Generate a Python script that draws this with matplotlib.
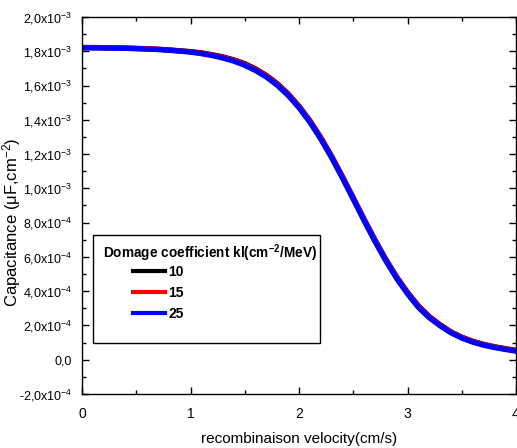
import matplotlib
matplotlib.use("Agg")
import matplotlib.pyplot as plt
from matplotlib.patches import Rectangle
from matplotlib.ticker import MultipleLocator

plt.rcParams['font.family'] = ['Liberation Sans', 'DejaVu Sans']
plt.rcParams['mathtext.fontset'] = 'custom'
plt.rcParams['mathtext.rm'] = 'Liberation Sans'
plt.rcParams['mathtext.it'] = 'Liberation Sans:italic'
plt.rcParams['mathtext.bf'] = 'Liberation Sans:bold'
plt.rcParams['mathtext.default'] = 'regular'

# ---- data ----
velocity = [0.0, 0.1, 0.2, 0.3, 0.4, 0.5, 0.6, 0.7, 0.8, 0.9, 1.0,
            1.1, 1.2, 1.3, 1.4, 1.5, 1.6, 1.7, 1.8, 1.9, 2.0,
            2.1, 2.2, 2.3, 2.4, 2.5, 2.6, 2.7, 2.8, 2.9, 3.0,
            3.1, 3.2, 3.3, 3.4, 3.5, 3.6, 3.7, 3.8, 3.9, 4.0]
cap_10 = [1.822e-3, 1.822e-3, 1.821e-3, 1.820e-3, 1.819e-3, 1.817e-3, 1.815e-3, 1.812e-3,
          1.808e-3, 1.803e-3, 1.798e-3, 1.791e-3, 1.780e-3, 1.767e-3, 1.750e-3, 1.728e-3,
          1.697e-3, 1.659e-3, 1.611e-3, 1.552e-3, 1.480e-3, 1.396e-3, 1.298e-3, 1.189e-3,
          1.070e-3, 0.946e-3, 0.821e-3, 0.700e-3, 0.587e-3, 0.484e-3, 0.394e-3, 0.315e-3,
          0.253e-3, 0.205e-3, 0.163e-3, 0.132e-3, 0.108e-3, 0.090e-3, 0.076e-3, 0.065e-3,
          0.055e-3]
cap_15 = [1.821e-3, 1.821e-3, 1.820e-3, 1.819e-3, 1.818e-3, 1.816e-3, 1.814e-3, 1.811e-3,
          1.807e-3, 1.802e-3, 1.797e-3, 1.789e-3, 1.778e-3, 1.764e-3, 1.747e-3, 1.724e-3,
          1.693e-3, 1.655e-3, 1.607e-3, 1.548e-3, 1.476e-3, 1.392e-3, 1.294e-3, 1.185e-3,
          1.066e-3, 0.942e-3, 0.817e-3, 0.696e-3, 0.583e-3, 0.480e-3, 0.390e-3, 0.311e-3,
          0.250e-3, 0.202e-3, 0.161e-3, 0.130e-3, 0.106e-3, 0.088e-3, 0.074e-3, 0.063e-3,
          0.053e-3]
cap_25 = [1.820e-3, 1.820e-3, 1.819e-3, 1.818e-3, 1.817e-3, 1.815e-3, 1.813e-3, 1.810e-3,
          1.806e-3, 1.801e-3, 1.795e-3, 1.786e-3, 1.775e-3, 1.760e-3, 1.742e-3, 1.718e-3,
          1.687e-3, 1.649e-3, 1.601e-3, 1.542e-3, 1.470e-3, 1.386e-3, 1.288e-3, 1.179e-3,
          1.060e-3, 0.936e-3, 0.811e-3, 0.690e-3, 0.577e-3, 0.474e-3, 0.384e-3, 0.305e-3,
          0.245e-3, 0.198e-3, 0.157e-3, 0.126e-3, 0.103e-3, 0.085e-3, 0.071e-3, 0.060e-3,
          0.050e-3]
series_labels = ['10', '15', '25']
series_colors = ['black', 'red', 'blue']

xticks = [0, 1, 2, 3, 4]
xtick_labels = ['0', '1', '2', '3', '4']
yticks = [-2e-4, 0.0, 2e-4, 4e-4, 6e-4, 8e-4, 1.0e-3, 1.2e-3, 1.4e-3, 1.6e-3, 1.8e-3, 2.0e-3]
ytick_labels = ['-2,0x10$^{-4}$', '0,0', '2,0x10$^{-4}$', '4,0x10$^{-4}$', '6,0x10$^{-4}$',
                '8,0x10$^{-4}$', '1,0x10$^{-3}$', '1,2x10$^{-3}$', '1,4x10$^{-3}$',
                '1,6x10$^{-3}$', '1,8x10$^{-3}$', '2,0x10$^{-3}$']

W, H = 517, 448
fig = plt.figure(figsize=(W / 100, H / 100), dpi=100)
ax = fig.add_axes([82 / W, 1 - 394 / H, 434 / W, 377 / H])

for ys, lab, col in zip([cap_10, cap_15, cap_25], series_labels, series_colors):
    ax.plot(velocity, ys, color=col, lw=3.8, label=lab, solid_joinstyle='round')

ax.set_xlim(0, 4)
ax.set_ylim(-2e-4, 2e-3)
ax.set_xticks(xticks)
ax.set_xticklabels(xtick_labels)
ax.set_yticks(yticks)
ax.set_yticklabels(ytick_labels)
ax.xaxis.set_minor_locator(MultipleLocator(0.5))
ax.yaxis.set_minor_locator(MultipleLocator(1e-4))
ax.tick_params(which='both', direction='in', top=True, right=True, width=1.0)
ax.tick_params(which='major', length=5)
ax.tick_params(which='minor', length=3)
ax.tick_params(axis='x', which='both', labelsize=10, pad=9)
ax.tick_params(axis='y', which='both', labelsize=9, pad=7)
for s in ax.spines.values():
    s.set_linewidth(1.0)

ax.set_xlabel('recombinaison velocity(cm/s)', fontsize=11, labelpad=8)
ax.set_ylabel('Capacitance ($\\mu$F,cm$^{-2}$)', fontsize=12)
ax.yaxis.set_label_coords((23 - 82) / 434, (394 - 222) / 377)

# legend box
def ax_x(px):
    return (px - 82) / 434

def ax_y(py):
    return (394 - py) / 377

ax.add_patch(Rectangle((ax_x(93), ax_y(343)), ax_x(320) - ax_x(93), ax_y(235) - ax_y(343),
                       transform=ax.transAxes, fill=False, ec='black', lw=1.0, zorder=5))
ax.text(ax_x(103), ax_y(253), 'Domage coefficient kl(cm$^{\\mathbf{-2}}$/MeV)',
        transform=ax.transAxes, fontsize=9.8, fontweight='bold', va='center', ha='left', zorder=6)
leg = ax.legend(loc='upper left', bbox_to_anchor=(ax_x(133), ax_y(265)), frameon=False,
                prop={'weight': 'bold', 'size': 10}, handlelength=2.3, handletextpad=0.25,
                labelspacing=0.5, borderpad=0, borderaxespad=0)
for h in leg.get_lines():
    h.set_linewidth(3.0)

fig.savefig('out.png', dpi=100)
